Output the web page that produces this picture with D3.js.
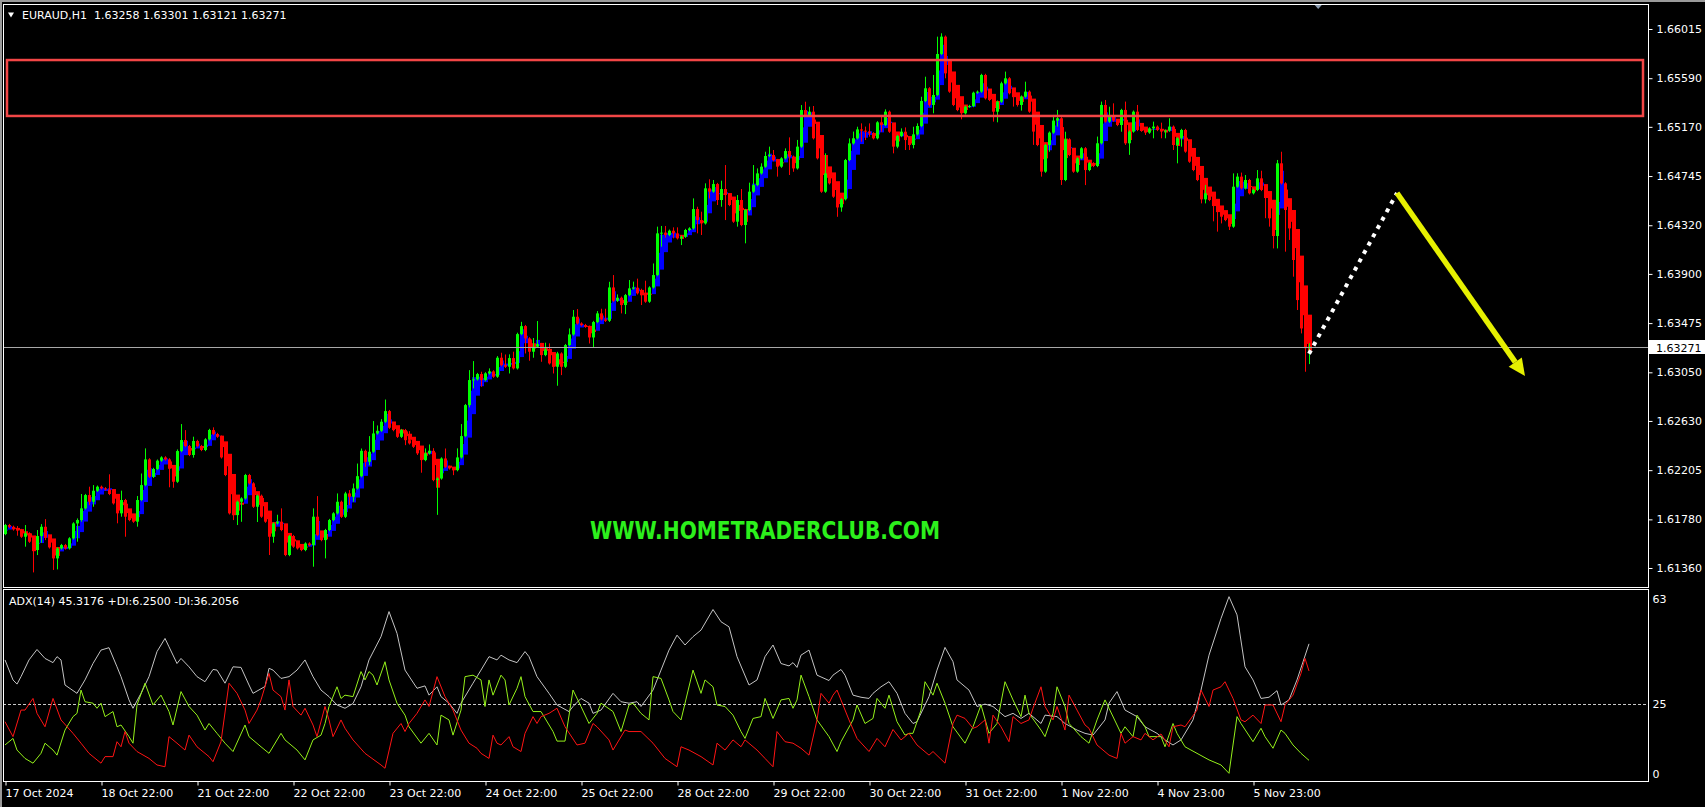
<!DOCTYPE html>
<html>
<head>
<meta charset="utf-8">
<script src="https://cdn.jsdelivr.net/npm/d3@7"></script>
<style>
  html, body { margin: 0; padding: 0; background: #000; overflow: hidden; }
  svg { display: block; }
</style>
</head>
<body>
<svg id="chart" width="1705" height="807"></svg>
<script>
// EURAUD H1, bars 0..326 (17 Oct 22:00 -> 6 Nov 13:00)
const firstOpen = 1.61653;
const closes = [
  1.61731,1.61716,1.61693,1.61688,1.61630,1.61659,1.61587,1.61515,1.61636,1.61716,1.61621,1.61538,
  1.61443,1.61529,1.61558,1.61529,1.61616,1.61745,1.61774,1.61875,1.61990,1.61932,1.62027,1.62062,
  1.62048,1.62039,1.61999,1.61918,1.61832,1.61947,1.61803,1.61774,1.61760,1.61947,1.62076,1.62298,
  1.62148,1.62215,1.62287,1.62315,1.62298,1.62218,1.62105,1.62370,1.62465,1.62413,1.62336,1.62457,
  1.62413,1.62379,1.62471,1.62552,1.62517,1.62494,1.62315,1.62163,1.61832,1.61817,1.61932,1.61961,
  1.62163,1.62091,1.61889,1.61984,1.61803,1.61760,1.61630,1.61745,1.61760,1.61688,1.61472,1.61636,
  1.61544,1.61529,1.61515,1.61572,1.61558,1.61803,1.61644,1.61601,1.61688,1.61774,1.61832,1.61932,
  1.61802,1.62004,1.61975,1.62047,1.62153,1.62372,1.62277,1.62364,1.62522,1.62545,1.62623,1.62715,
  1.62571,1.62551,1.62493,1.62551,1.62464,1.62436,1.62407,1.62350,1.62292,1.62350,1.62372,1.62119,
  1.62133,1.62306,1.62234,1.62220,1.62205,1.62315,1.62499,1.62767,1.62983,1.62989,1.63035,1.62983,
  1.63041,1.63058,1.63012,1.63176,1.63112,1.63098,1.63173,1.63084,1.63380,1.63449,1.63343,1.63228,
  1.63271,1.63294,1.63199,1.63248,1.63127,1.63098,1.63213,1.63098,1.63285,1.63377,1.63530,1.63472,
  1.63458,1.63444,1.63351,1.63484,1.63559,1.63507,1.63495,1.63783,1.63668,1.63694,1.63631,1.63717,
  1.63775,1.63781,1.63732,1.63726,1.63660,1.63783,1.63890,1.64250,1.64256,1.64236,1.64273,1.64250,
  1.64207,1.64221,1.64279,1.64293,1.64460,1.64365,1.64336,1.64639,1.64610,1.64676,1.64538,1.64633,
  1.64581,1.64495,1.64351,1.64538,1.64322,1.64451,1.64610,1.64667,1.64768,1.64826,1.64918,1.64927,
  1.64883,1.64826,1.64898,1.64961,1.64912,1.64811,1.64999,1.65315,1.65272,1.65301,1.65071,1.64898,
  1.64610,1.64768,1.64682,1.64567,1.64474,1.64544,1.64883,1.65027,1.65071,1.65148,1.65137,1.65128,
  1.65114,1.65071,1.65209,1.65186,1.65301,1.65128,1.64999,1.65091,1.65128,1.65056,1.65013,1.65105,
  1.65177,1.65393,1.65503,1.65359,1.65445,1.65799,1.65949,1.65632,1.65474,1.65359,1.65315,1.65287,
  1.65344,1.65350,1.65465,1.65474,1.65618,1.65416,1.65402,1.65301,1.65387,1.65546,1.65589,1.65460,
  1.65431,1.65359,1.65431,1.65474,1.65301,1.65129,1.65013,1.64783,1.65013,1.65120,1.65224,1.65244,
  1.64711,1.65062,1.64927,1.64783,1.64898,1.64985,1.64797,1.64855,1.64832,1.65028,1.65359,1.65215,
  1.65258,1.65224,1.65186,1.65316,1.65028,1.65129,1.65301,1.65143,1.65137,1.65120,1.65157,1.65172,
  1.65143,1.65129,1.65137,1.65172,1.65013,1.65071,1.65143,1.64956,1.64869,1.64797,1.64711,1.64544,
  1.64596,1.64538,1.64504,1.64452,1.64394,1.64365,1.64308,1.64653,1.64740,1.64639,1.64711,1.64596,
  1.64625,1.64725,1.64625,1.64581,1.64380,1.64227,1.64855,1.64682,1.64452,1.64293,1.64020,1.63674,
  1.63429,1.63258,1.63271
];
// wick lengths in points beyond the body, [bar, points]; other bars ~10 points
const upWicks = [[3,29],[5,72],[8,52],[9,23],[10,66],[18,14],[19,124],[21,72],[22,49],[26,130],[29,81],[33,35],[34,100],[35,95],
  [43,14],[44,138],[45,86],[47,37],[52,23],[68,60],[69,115],[77,72],[78,178],[83,72],[85,14],[86,29],[87,43],[88,109],[89,20],
  [91,135],[92,107],[93,46],[94,23],[95,100],[101,78],[105,43],[106,55],[107,23],[110,86],[113,78],[114,104],[116,86],[117,158],
  [119,20],[121,26],[123,14],[124,43],[125,92],[126,32],[127,55],[128,12],[129,37],[132,75],[133,199],[135,58],[136,52],[138,14],
  [141,52],[142,58],[143,66],[148,20],[149,40],[150,92],[151,49],[152,107],[153,29],[156,72],[157,52],[158,78],[159,40],[160,115],
  [162,100],[163,58],[164,58],[165,58],[167,29],[168,52],[172,92],[173,20],[174,72],[175,43],[176,78],[177,35],[179,72],[180,207],
  [183,43],[184,95],[186,78],[187,173],[188,43],[189,29],[190,37],[191,72],[192,43],[195,23],[196,118],[198,58],[199,43],[200,72],
  [201,43],[202,49],[205,173],[211,43],[212,58],[213,23],[214,52],[215,35],[216,72],[219,49],[220,20],[224,29],[225,37],[227,66],
  [228,23],[229,37],[230,100],[232,173],[233,150],[234,29],[242,9],[249,14],[250,58],[255,86],[262,49],[263,72],[265,66],[273,58],
  [274,29],[275,43],[276,86],[277,115],[280,72],[283,58],[287,43],[289,63],[291,72],[299,29],[300,72],[307,115],[308,29],[309,35],
  [310,43],[313,72],[314,66],[318,29],[319,100],[326,30]];
const downWicks = [[3,49],[5,86],[7,193],[8,43],[9,58],[10,20],[12,100],[13,95],[18,158],[19,14],[21,29],[22,43],[28,86],[29,29],
  [30,173],[33,43],[41,161],[42,52],[47,23],[57,43],[58,86],[59,173],[63,132],[66,158],[67,52],[77,187],[80,158],[86,72],[87,43],
  [90,43],[91,29],[100,43],[103,14],[104,109],[108,300],[112,43],[116,20],[117,72],[119,58],[126,58],[130,130],[131,78],[132,52],
  [134,58],[137,58],[138,164],[139,72],[146,52],[147,86],[154,72],[155,78],[159,95],[164,115],[165,23],[167,43],[169,58],[173,115],
  [174,100],[176,58],[178,43],[179,58],[180,216],[183,43],[185,158],[193,86],[196,158],[197,29],[208,81],[209,37],[214,95],[215,72],
  [216,29],[219,58],[222,58],[223,14],[225,86],[226,43],[227,29],[231,14],[232,72],[235,43],[239,52],[247,86],[248,92],[252,86],
  [253,14],[254,49],[257,115],[259,43],[261,58],[263,52],[264,43],[270,130],[279,58],[280,14],[281,100],[285,20],[287,86],[289,58],
  [290,58],[292,43],[293,158],[294,72],[299,35],[300,35],[302,150],[303,187],[304,58],[306,29],[315,200],[316,72],[317,107],[318,107],
  [320,360],[321,100],[322,144],[323,86],[324,43],[325,203],[326,137]];

const priceTicks = [1.66015,1.65590,1.65170,1.64745,1.64320,1.63900,1.63475,1.63050,1.62630,1.62205,1.61780,1.61360];
const timeLabels = [[0,"17 Oct 2024"],[24,"18 Oct 22:00"],[48,"21 Oct 22:00"],[72,"22 Oct 22:00"],[96,"23 Oct 22:00"],
  [120,"24 Oct 22:00"],[144,"25 Oct 22:00"],[168,"28 Oct 22:00"],[192,"29 Oct 22:00"],[216,"30 Oct 22:00"],
  [240,"31 Oct 22:00"],[264,"1 Nov 22:00"],[288,"4 Nov 23:00"],[312,"5 Nov 23:00"]];

// ADX(14) panel, [bar, value]
const adxMain = [[0,39.9],[2,33.2],[3,31.8],[4,34.3],[6,39.9],[8,43.4],[10,40.4],[12,39.0],[13,41.0],[14,39.9],[15,31.5],[18,28.7],
  [20,33.2],[22,38.7],[24,43.2],[26,44.0],[28,37.6],[29,34.3],[31,26.5],[32,23.7],[34,28.7],[36,34.3],[38,42.7],[40,47.1],[41,44.3],
  [43,38.7],[44,40.4],[46,37.6],[48,34.3],[50,32.6],[52,36.7],[53,36.5],[55,32.1],[57,37.6],[59,37.4],[61,31.5],[62,28.7],[65,31.0],
  [66,37.1],[67,36.5],[69,33.7],[71,34.3],[73,36.5],[75,39.9],[77,34.3],[79,29.8],[81,27.6],[83,24.8],[85,23.7],[87,25.3],[89,30.9],
  [91,39.9],[94,47.7],[96,56.1],[98,48.8],[100,36.5],[103,30.4],[105,31.2],[106,28.1],[108,30.9],[109,27.6],[111,25.4],[113,22.0],
  [114,25.4],[117,32.1],[119,36.5],[121,41.0],[123,39.9],[124,41.5],[126,39.9],[128,39.0],[130,42.7],[131,41.0],[133,34.3],[136,28.7],
  [138,24.8],[141,22.6],[142,24.3],[144,27.0],[146,25.4],[147,22.0],[149,23.1],[152,28.7],[154,25.9],[156,25.4],[158,25.9],[159,24.3],
  [162,29.8],[164,36.5],[166,43.2],[168,48.2],[170,44.9],[172,47.7],[174,49.9],[177,56.8],[179,52.7],[181,51.0],[183,41.0],[186,31.5],
  [188,33.2],[190,41.0],[192,44.9],[194,38.7],[196,37.9],[197,39.0],[198,37.4],[199,41.5],[201,43.2],[203,34.8],[206,33.0],[207,34.8],
  [209,36.7],[210,34.8],[212,28.1],[214,27.4],[216,27.0],[217,28.7],[219,30.9],[221,32.6],[223,28.7],[225,22.0],[227,18.6],[228,19.2],
  [231,27.6],[233,36.5],[235,44.1],[237,39.3],[238,33.2],[241,29.8],[243,24.3],[245,25.1],[247,24.3],[250,20.9],[252,22.0],[254,20.3],
  [256,22.0],[259,18.6],[260,21.4],[263,20.9],[265,18.6],[268,16.4],[270,15.3],[272,14.7],[275,19.8],[276,25.4],[278,29.3],[280,23.1],
  [283,20.9],[285,17.5],[288,15.3],[290,13.1],[292,11.4],[294,13.1],[297,19.8],[299,29.8],[301,41.5],[304,53.8],[306,61.1],[308,55.0],
  [310,37.6],[312,33.2],[314,27.0],[316,27.4],[318,29.6],[319,24.8],[321,26.5],[323,33.2],[326,45.3]];
const minusDI = [[0,19.2],[2,14.2],[4,23.1],[5,23.1],[7,27.0],[8,22.0],[10,17.5],[12,27.0],[14,19.8],[17,15.3],[19,12.0],[21,8.6],
  [23,6.4],[24,5.3],[25,7.5],[27,7.5],[28,12.5],[29,10.8],[30,15.9],[31,12.0],[33,9.2],[36,6.9],[38,4.7],[40,4.1],[41,14.2],[43,12.0],
  [45,9.7],[46,14.7],[48,10.8],[51,7.5],[52,5.8],[54,12.5],[56,32.1],[58,28.7],[60,23.1],[61,18.6],[63,23.1],[64,26.5],[66,35.4],
  [67,29.8],[69,27.6],[70,23.1],[71,33.2],[72,24.3],[74,21.4],[75,23.7],[77,18.1],[78,14.2],[80,24.3],[81,19.8],[82,14.2],[84,19.8],
  [85,17.0],[87,13.1],[90,8.6],[94,4.7],[95,3.6],[97,15.3],[99,18.6],[100,15.9],[101,18.6],[103,22.0],[105,26.5],[106,24.3],[108,34.3],
  [110,27.6],[112,23.1],[114,16.4],[116,12.0],[118,10.3],[119,8.6],[121,6.9],[122,14.7],[123,12.0],[124,11.4],[126,14.2],[127,10.8],
  [129,9.2],[130,15.3],[132,20.9],[133,18.6],[134,20.9],[136,22.0],[138,23.7],[140,17.5],[143,11.4],[145,12.0],[147,18.6],[148,17.5],
  [151,13.1],[152,9.7],[155,16.4],[156,15.9],[159,15.9],[162,12.0],[165,6.9],[168,4.1],[169,10.8],[171,9.7],[174,7.5],[177,4.7],
  [178,12.0],[180,9.7],[182,13.1],[184,10.8],[185,13.1],[188,9.7],[190,6.9],[192,4.1],[193,15.9],[195,12.5],[197,12.0],[199,10.3],
  [201,8.0],[203,19.8],[204,28.7],[206,25.4],[207,28.1],[208,29.8],[211,19.8],[213,13.6],[216,9.2],[218,13.6],[220,10.8],[222,16.6],
  [224,13.1],[226,15.3],[228,11.4],[231,8.0],[232,9.2],[235,5.3],[237,18.6],[238,21.4],[240,20.3],[242,17.0],[243,17.5],[245,19.8],
  [246,12.0],[247,21.4],[249,17.5],[251,12.5],[252,20.9],[254,18.6],[256,19.8],[257,23.7],[259,30.9],[260,24.3],[262,19.8],[263,24.3],
  [265,16.4],[266,28.1],[268,23.1],[270,18.1],[271,17.0],[273,11.4],[276,8.0],[278,6.9],[279,15.3],[280,12.0],[282,14.2],[284,13.1],
  [285,15.3],[287,13.1],[289,15.1],[291,10.8],[292,17.5],[294,18.1],[295,17.5],[298,23.1],[299,29.8],[301,24.3],[302,29.8],[304,30.9],
  [305,32.6],[307,27.0],[309,19.8],[310,19.2],[312,21.4],[314,18.6],[315,24.8],[317,24.8],[319,19.2],[320,24.8],[322,28.1],[324,35.4],
  [325,40.4],[326,36.2]];
const plusDI = [[0,11.4],[2,13.6],[3,9.7],[5,6.9],[7,5.3],[9,8.6],[10,12.0],[12,9.7],[13,8.0],[15,16.4],[17,20.9],[18,22.0],[19,29.8],
  [20,25.9],[22,25.4],[23,23.7],[24,25.4],[25,20.9],[27,22.6],[28,17.5],[29,18.1],[31,14.2],[32,12.0],[33,24.8],[35,32.1],[37,24.8],
  [39,28.1],[41,22.6],[42,18.1],[44,29.3],[46,24.3],[48,21.4],[50,16.4],[51,18.6],[53,15.3],[55,12.0],[57,9.2],[60,18.1],[61,14.2],
  [64,10.8],[66,8.6],[69,15.3],[70,13.1],[73,9.7],[75,6.4],[77,13.1],[79,14.7],[80,18.6],[81,24.3],[83,30.9],[84,27.0],[85,28.1],
  [87,27.6],[89,36.0],[90,33.2],[91,36.0],[92,34.8],[93,31.5],[95,39.3],[96,33.2],[98,25.4],[100,21.4],[101,17.5],[104,12.0],[106,15.3],
  [108,11.4],[109,21.4],[111,19.8],[112,14.7],[114,23.1],[115,34.3],[117,34.8],[119,33.2],[120,24.3],[121,33.2],[122,28.1],[124,34.8],
  [125,33.2],[126,24.8],[128,30.4],[129,34.3],[130,27.6],[132,22.6],[134,22.6],[137,15.9],[138,12.7],[140,12.7],[142,29.8],[144,24.3],
  [146,18.6],[148,22.0],[149,25.4],[152,22.6],[154,15.9],[156,24.8],[157,25.4],[159,22.0],[161,19.8],[162,34.3],[164,33.7],[166,26.5],
  [167,22.6],[169,19.8],[172,36.5],[174,28.7],[175,33.2],[177,30.9],[178,24.8],[180,24.3],[182,21.4],[184,15.9],[185,13.6],[187,20.3],
  [189,20.9],[190,27.0],[192,20.3],[194,26.5],[196,27.0],[197,23.7],[198,26.5],[199,34.8],[201,27.6],[203,19.8],[206,14.2],[208,9.2],
  [209,12.5],[212,19.8],[213,24.8],[215,18.6],[217,20.3],[218,27.0],[220,23.7],[221,28.1],[223,19.2],[225,14.7],[226,15.3],[227,15.3],
  [229,23.1],[230,32.6],[232,28.1],[233,32.1],[235,25.4],[237,17.5],[240,12.0],[242,17.5],[244,24.8],[246,15.3],[248,18.6],[250,32.6],
  [252,26.5],[254,20.9],[255,28.1],[256,22.0],[259,16.4],[260,14.2],[262,22.0],[263,30.9],[265,24.3],[266,18.6],[269,14.2],[271,12.0],
  [273,19.8],[275,26.5],[276,23.7],[279,15.3],[280,17.5],[282,14.2],[283,21.4],[285,17.5],[286,14.2],[289,14.2],[290,10.8],[292,18.6],
  [293,15.3],[295,10.8],[298,8.6],[301,6.4],[304,4.7],[306,1.9],[308,20.9],[309,18.6],[312,12.5],[314,17.0],[315,14.2],[317,10.3],
  [319,16.4],[320,15.3],[322,11.4],[324,8.6],[326,6.25]];
const adxTicks = [0, 25, 63];
const adxLevel = 25;

// drawn objects (bar index / price)
const zone = {from: 0.5, to: 409.5, top: 1.65747, bottom: 1.65264};
const projection = [[326, 1.63210], [348, 1.64599]];
const target = [[348, 1.64599], [380, 1.63018]];

const header = "EURAUD,H1  1.63258 1.63301 1.63121 1.63271";
const adxHeader = "ADX(14) 45.3176 +DI:6.2500 -DI:36.2056";
const watermark = "WWW.HOMETRADERCLUB.COM";

const FONT = "'DejaVu Sans', Verdana, sans-serif";
const POINT = 0.00001;

const svg = d3.select("#chart");
const W = 1705, H = 807;
const mainBox = {l: 3, t: 4, r: 1648, b: 587};
const subBox = {l: 3, t: 589, r: 1648, b: 781};

// scales: 4 px per hourly bar
const x = d3.scaleLinear().domain([0, 410]).range([5, 1645]);
const y = d3.scaleLinear().domain([1.6136, 1.66015]).range([568, 29]);
const ya = d3.scaleLinear().domain([0, 63]).range([779, 591]);

// bars from closes + wicks
const upMap = new Map(upWicks), dnMap = new Map(downWicks);
const bars = closes.map((c, i) => {
  const o = i ? closes[i - 1] : firstOpen;
  return {
    i, o, c,
    h: Math.max(o, c) + (upMap.has(i) ? upMap.get(i) : 10) * POINT,
    l: Math.min(o, c) - (dnMap.has(i) ? dnMap.get(i) : 10) * POINT
  };
});
// Heiken Ashi overlay
let haPrev = null;
bars.forEach(b => {
  const hc = (b.o + b.h + b.l + b.c) / 4;
  const ho = haPrev ? (haPrev.o + haPrev.c) / 2 : (b.o + b.c) / 2;
  b.ha = {o: ho, c: hc};
  haPrev = b.ha;
});

svg.append("rect").attr("width", W).attr("height", H).attr("fill", "#000");
svg.append("rect").attr("width", W).attr("height", 2).attr("fill", "#9a9a9a");
svg.append("rect").attr("width", 2).attr("height", H).attr("fill", "#9a9a9a");

const defs = svg.append("defs");
defs.append("clipPath").attr("id", "clipMain").append("rect")
  .attr("x", mainBox.l + 1).attr("y", mainBox.t + 1)
  .attr("width", mainBox.r - mainBox.l - 1).attr("height", mainBox.b - mainBox.t - 1);
defs.append("clipPath").attr("id", "clipSub").append("rect")
  .attr("x", subBox.l + 1).attr("y", subBox.t + 1)
  .attr("width", subBox.r - subBox.l - 1).attr("height", subBox.b - subBox.t - 1);

// ---- main panel ----
const gMain = svg.append("g").attr("clip-path", "url(#clipMain)");

// watermark
gMain.append("text")
  .attr("x", 590).attr("y", 539)
  .attr("font-family", FONT).attr("font-weight", "bold").attr("font-size", 24)
  .attr("textLength", 350).attr("lengthAdjust", "spacingAndGlyphs")
  .attr("fill", "#2cf01c")
  .text(watermark);

const px = i => Math.round(x(i));

gMain.append("g").selectAll("rect")
  .data(bars)
  .join("rect")
    .attr("x", d => px(d.i) - 1)
    .attr("width", 4)
    .attr("y", d => y(Math.max(d.ha.o, d.ha.c)))
    .attr("height", d => Math.max(1, Math.abs(y(d.ha.o) - y(d.ha.c))))
    .attr("fill", d => d.ha.c >= d.ha.o ? "#0000ff" : "#ff0000");

gMain.append("g").selectAll("line")
  .data(bars)
  .join("line")
    .attr("x1", d => px(d.i) + 0.5).attr("x2", d => px(d.i) + 0.5)
    .attr("y1", d => y(d.h)).attr("y2", d => y(d.l))
    .attr("stroke", d => d.c >= d.o ? "#00ff00" : "#ff0000")
    .attr("stroke-width", 1);

gMain.append("g").selectAll("rect")
  .data(bars)
  .join("rect")
    .attr("x", d => px(d.i) - 1)
    .attr("width", 3)
    .attr("y", d => y(Math.max(d.o, d.c)))
    .attr("height", d => Math.max(1, Math.abs(y(d.o) - y(d.c))))
    .attr("fill", d => d.c >= d.o ? "#00ff00" : "#ff0000");

// resistance zone
gMain.append("rect")
  .attr("x", x(zone.from)).attr("y", y(zone.top))
  .attr("width", x(zone.to) - x(zone.from)).attr("height", y(zone.bottom) - y(zone.top))
  .attr("fill", "none").attr("stroke", "#f24646").attr("stroke-width", 2.5);

// bid line
const last = bars[bars.length - 1];
gMain.append("line")
  .attr("x1", mainBox.l).attr("x2", mainBox.r)
  .attr("y1", Math.round(y(last.c)) + 0.5).attr("y2", Math.round(y(last.c)) + 0.5)
  .attr("stroke", "#a8a8a8").attr("stroke-width", 1);

// projection (dotted) and target arrow
const pline = d3.line().x(d => x(d[0])).y(d => y(d[1]));
gMain.append("path")
  .attr("d", pline(projection))
  .attr("fill", "none").attr("stroke", "#ffffff")
  .attr("stroke-width", 4).attr("stroke-dasharray", "4 5.5");

const ax0 = x(target[0][0]), ay0 = y(target[0][1]);
const ax1 = x(target[1][0]), ay1 = y(target[1][1]);
const ang = Math.atan2(ay1 - ay0, ax1 - ax0);
const headLen = 17, headHalf = 8;
const bx = ax1 - headLen * Math.cos(ang), by = ay1 - headLen * Math.sin(ang);
gMain.append("line")
  .attr("x1", ax0).attr("y1", ay0).attr("x2", bx).attr("y2", by)
  .attr("stroke", "#e6f000").attr("stroke-width", 5.5).attr("stroke-linecap", "butt");
gMain.append("path")
  .attr("d", `M${ax1},${ay1}L${bx - headHalf * Math.sin(ang)},${by + headHalf * Math.cos(ang)}L${bx + headHalf * Math.sin(ang)},${by - headHalf * Math.cos(ang)}Z`)
  .attr("fill", "#e6f000");

// header
svg.append("path").attr("d", "M8,12.5L14,12.5L11,17.5Z").attr("fill", "#fff");
svg.append("text")
  .attr("x", 22).attr("y", 19)
  .attr("font-family", FONT).attr("font-size", 11).attr("fill", "#fff")
  .attr("xml:space", "preserve")
  .text(header);

// shift marker
const sx = x(328.3);
svg.append("path").attr("d", `M${sx - 4},4.5L${sx + 4},4.5L${sx},9Z`).attr("fill", "#8a9bb0");

// panel frames
[mainBox, subBox].forEach(b => {
  svg.append("rect")
    .attr("x", b.l + 0.5).attr("y", b.t + 0.5)
    .attr("width", b.r - b.l).attr("height", b.b - b.t)
    .attr("fill", "none").attr("stroke", "#fff").attr("stroke-width", 1);
});

// price axis
const yAxis = svg.append("g")
  .attr("transform", `translate(${mainBox.r + 0.5},0)`)
  .call(d3.axisRight(y).tickValues(priceTicks).tickFormat(d3.format(".5f")).tickSize(4).tickPadding(4));
yAxis.select(".domain").remove();
yAxis.attr("color", "#fff").attr("font-family", FONT).attr("font-size", 11);
yAxis.selectAll("text").attr("fill", "#fff");

// bid label
const by0 = Math.round(y(last.c));
svg.append("rect").attr("x", mainBox.r + 1).attr("y", by0 - 7).attr("width", W - mainBox.r - 1).attr("height", 14).attr("fill", "#fff");
svg.append("text")
  .attr("x", mainBox.r + 8).attr("y", by0 + 4.5)
  .attr("font-family", FONT).attr("font-size", 11).attr("fill", "#000")
  .text(d3.format(".5f")(last.c));

// ---- ADX panel ----
const gSub = svg.append("g").attr("clip-path", "url(#clipSub)");
gSub.append("line")
  .attr("x1", subBox.l).attr("x2", subBox.r)
  .attr("y1", Math.round(ya(adxLevel)) + 0.5).attr("y2", Math.round(ya(adxLevel)) + 0.5)
  .attr("stroke", "#c8c8c8").attr("stroke-dasharray", "3 2");

const aline = d3.line().x(d => x(d[0])).y(d => ya(d[1]));
[[adxMain, "#c4c4c4"], [plusDI, "#94f01a"], [minusDI, "#ff1414"]].forEach(([series, col]) => {
  gSub.append("path")
    .attr("d", aline(series))
    .attr("fill", "none").attr("stroke", col).attr("stroke-width", 1);
});

svg.append("text")
  .attr("x", 9).attr("y", 605)
  .attr("font-family", FONT).attr("font-size", 11).attr("fill", "#fff")
  .text(adxHeader);

const aAxis = svg.append("g")
  .attr("transform", `translate(${subBox.r + 0.5},0)`)
  .call(d3.axisRight(ya).tickValues(adxTicks).tickFormat(d3.format("d")).tickSize(0).tickPadding(4));
aAxis.select(".domain").remove();
aAxis.attr("font-family", FONT).attr("font-size", 11);
aAxis.selectAll("text").attr("fill", "#fff")
  .attr("dy", d => d === 63 ? "1em" : d === 0 ? "-0.18em" : "0.32em");

// time axis
const tMap = new Map(timeLabels);
const xAxis = svg.append("g")
  .attr("transform", `translate(0.5,${subBox.b + 0.5})`)
  .call(d3.axisBottom(x).tickValues(timeLabels.map(d => d[0])).tickFormat(d => tMap.get(d)).tickSize(4).tickPadding(4));
xAxis.select(".domain").remove();
xAxis.attr("color", "#fff").attr("font-family", FONT).attr("font-size", 11).attr("text-anchor", "start");
xAxis.selectAll("text").attr("fill", "#fff").attr("x", -0.5);
</script>
</body>
</html>
